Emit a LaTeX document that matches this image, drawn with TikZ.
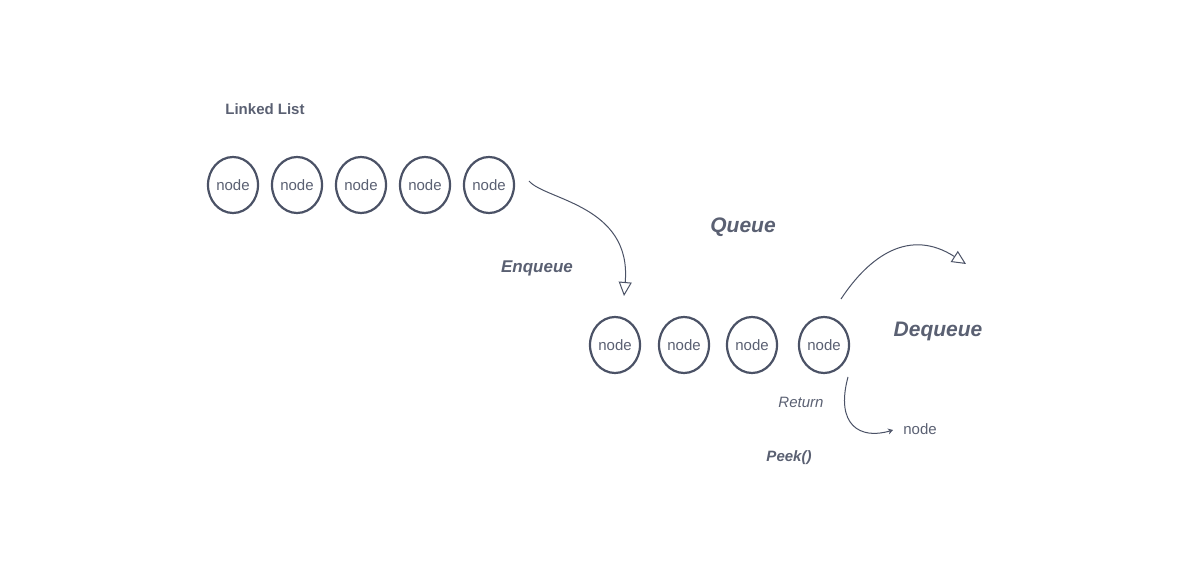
\documentclass[tikz,border=0pt]{standalone}
\usepackage{fontspec}
\setmainfont{Liberation Sans}
\usetikzlibrary{arrows.meta,shapes.geometric}
\definecolor{ink}{HTML}{4B5266}
\definecolor{txt}{HTML}{5A6072}
\begin{document}
\begin{tikzpicture}[x=1pt,y=-1pt,
  qnode/.style={draw=ink, line width=2.2pt, ellipse, minimum width=50pt, minimum height=56pt, inner sep=0pt, text=txt, font=\fontsize{15}{17}\selectfont},
  lbl/.style={text=txt, font=\bfseries\itshape\fontsize{18}{20}\selectfont},
  conn/.style={draw=ink, line width=1pt},
  tip/.style={-{Triangle[open, length=14pt, width=13pt, line width=1pt]}}
]
\useasboundingbox (0,0) rectangle (1192,564);
\node[text=txt, font=\bfseries\fontsize{15}{17}\selectfont] (ll) at (265,109) {Linked List};
\foreach \i/\x in {1/233,2/297,3/361,4/425,5/489}{
  \node[qnode] (t\i) at (\x,185) {node};
}
\foreach \i/\x in {1/615,2/684,3/752,4/824}{
  \node[qnode] (b\i) at (\x,345) {node};
}
\node[lbl, font=\bfseries\itshape\fontsize{21}{23}\selectfont] (queue) at (743,227) {Queue};
\node[lbl, font=\bfseries\itshape\fontsize{17}{19}\selectfont] (enq) at (537,268) {Enqueue};
\node[lbl, font=\bfseries\itshape\fontsize{21}{23}\selectfont] (deq) at (938,331) {Dequeue};
\node[text=txt, font=\itshape\fontsize{15}{17}\selectfont] (ret) at (801,402) {Return};
\node[text=txt, font=\fontsize{15}{17}\selectfont] (out) at (920,429) {node};
\node[lbl, font=\bfseries\itshape\fontsize{15}{17}\selectfont] (peek) at (789,458) {Peek()};
\coordinate (es) at (529,181);
\coordinate (ee) at (624,296);
\draw[conn, tip] (es) .. controls (545,200) and (632,205) .. (ee);
\coordinate (ds) at (841,299);
\coordinate (de) at (966,264);
\draw[conn, tip] (ds) .. controls (870,255) and (910,228) .. (de);
\coordinate (rs) at (848,377);
\coordinate (re) at (893,430);
\draw[conn, -{Stealth[open, length=5pt, width=6pt]}] (rs) .. controls (835,425) and (860,440) .. (re);
\end{tikzpicture}
\end{document}
